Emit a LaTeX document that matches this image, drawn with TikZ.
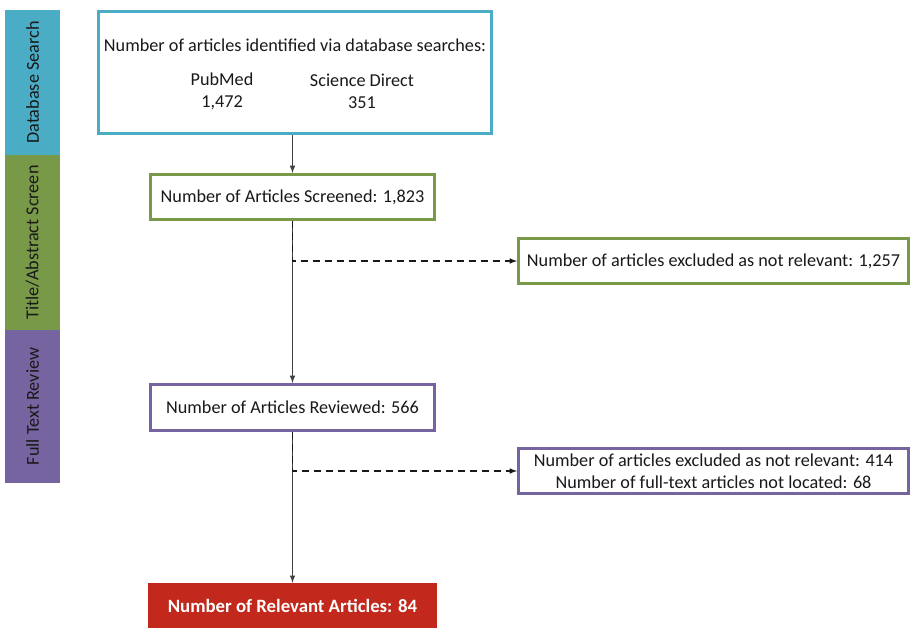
\documentclass[tikz,border=0pt]{standalone}
\usepackage{fontspec}
\setmainfont{Carlito}
\usepackage{tikz}
\definecolor{dbblue}{RGB}{75,172,198}
\definecolor{scrgreen}{RGB}{120,154,72}
\definecolor{revpurple}{RGB}{118,100,160}
\definecolor{relred}{RGB}{194,40,27}

\begin{document}
\begin{tikzpicture}[x=1pt,y=-1pt,
	every node/.style={font=\fontsize{18.2}{22}\selectfont,text=black!90},
	phase/.style={rotate=90,inner sep=0pt,minimum height=55pt},
	stagebox/.style={draw,line width=3pt,fill=white,inner sep=0pt,align=center},
	flow/.style={black!75,line width=1.5pt,-latex},
	skip/.style={black!90,line width=1.5pt,dash pattern=on 7pt off 5pt,-latex}]
	\useasboundingbox (0,0) rectangle (912,628);

	% phases on the left
	\node[phase,fill=dbblue,minimum width=145pt] (search) at (32.5,82.5) {Database Search};
	\node[phase,fill=scrgreen,minimum width=175pt] (tascreen) at (32.5,242.5) {Title/Abstract Screen};
	\node[phase,fill=revpurple,minimum width=153pt] (fulltext) at (32.5,406.5) {Full Text Review};

	% main column
	\node[stagebox,draw=dbblue,minimum width=393pt,minimum height=122pt] (ident) at (295,72.5) {};
	\node (identtxt) at (295,45) {Number of articles identified via database searches:};
	\node[align=center] (pubmed) at (222,91) {PubMed\\1,472};
	\node[align=center] (scidir) at (362,91) {Science Direct\\351};

	\node[stagebox,draw=scrgreen,minimum width=284pt,minimum height=45pt] (screen) at (292.5,197) {Number of Articles Screened: 1,823};
	\node[stagebox,draw=revpurple,minimum width=284pt,minimum height=46pt] (review) at (292.5,407.5) {Number of Articles Reviewed: 566};
	\node[fill=relred,inner sep=0pt,minimum width=289pt,minimum height=45pt,text=white,font=\fontsize{18.8}{22}\selectfont\bfseries] (relevant) at (292.5,605.5) {Number of Relevant Articles: 84};

	% exclusions
	\node[stagebox,draw=scrgreen,minimum width=390pt,minimum height=45pt] (excl1) at (713.5,261) {Number of articles excluded as not relevant: 1,257};
	\node[stagebox,draw=revpurple,minimum width=390pt,minimum height=45pt] (excl2) at (713.5,471) {Number of articles excluded as not relevant: 414\\Number of full-text articles not located: 68};

	\coordinate (fork1) at (screen.south |- excl1.west);
	\coordinate (fork2) at (review.south |- excl2.west);

	\draw[flow] (ident.south -| screen.north) -- (screen);
	\draw[flow] (screen) -- (review);
	\draw[flow] (review) -- (relevant);
	\draw[skip] (screen) |- (excl1);
	\draw[skip] (review) |- (excl2);
\end{tikzpicture}
\end{document}
